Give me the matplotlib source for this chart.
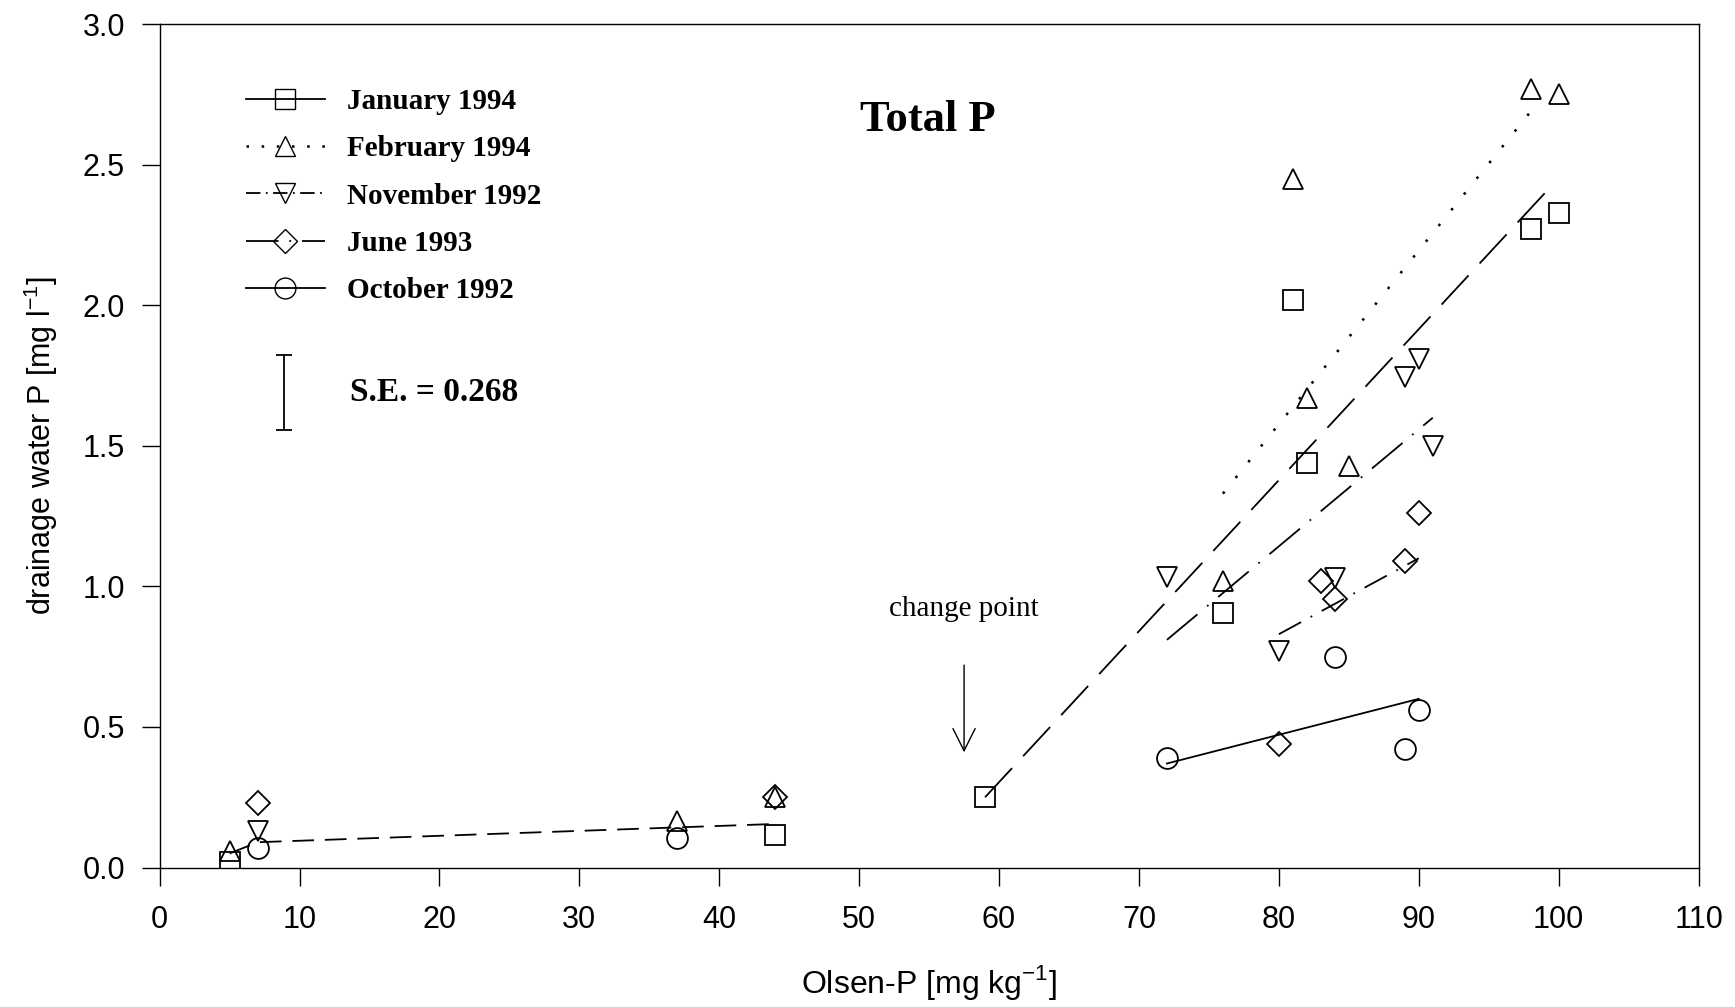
import matplotlib
matplotlib.use("Agg")
import matplotlib.pyplot as plt
from matplotlib.lines import Line2D

# values
jan_x = [5, 44, 59, 76, 81, 82, 98, 100]
jan_y = [0.02, 0.115, 0.25, 0.905, 2.02, 1.44, 2.27, 2.33]
feb_x = [5, 37, 44, 76, 81, 82, 85, 98, 100]
feb_y = [0.06, 0.165, 0.25, 1.02, 2.45, 1.67, 1.43, 2.77, 2.75]
nov_x = [7, 72, 80, 84, 89, 90, 91]
nov_y = [0.13, 1.035, 0.77, 1.03, 1.745, 1.81, 1.50]
jun_x = [7, 44, 80, 83, 84, 89, 90]
jun_y = [0.23, 0.25, 0.44, 1.02, 0.955, 1.09, 1.26]
oct_x = [7, 37, 72, 84, 89, 90]
oct_y = [0.07, 0.105, 0.39, 0.75, 0.42, 0.56]

# fitted lines (end points)
low_fit_x = [5, 7, 44]
low_fit_y = [0.05, 0.09, 0.155]
jan_fit_x = [59, 99.4]
jan_fit_y = [0.25, 2.42]
feb_fit_x = [76, 98.5]
feb_fit_y = [1.33, 2.72]
nov_fit_x = [72, 91]
nov_fit_y = [0.81, 1.60]
jun_fit_x = [80, 90]
jun_fit_y = [0.83, 1.10]
oct_fit_x = [72, 90]
oct_fit_y = [0.37, 0.60]

se_x = 8.9
se_y = 1.69
se_val = 0.268

labels = ['January 1994', 'February 1994', 'November 1992', 'June 1993', 'October 1992']

sans = ['Liberation Sans', 'DejaVu Sans']
serif = ['Liberation Serif', 'DejaVu Serif']

fig = plt.figure(figsize=(17.35, 10.07), dpi=100)
ax = fig.add_axes([0.092, 0.1385, 0.887, 0.8375])

lw = 1.3
ms = 15
mk = dict(linestyle='none', mfc='none', mec='black', mew=1.3, ms=ms)

# fit lines
ax.plot(low_fit_x, low_fit_y, color='black', lw=lw, linestyle=(0, (12, 6)))
ax.plot(jan_fit_x, jan_fit_y, color='black', lw=lw, linestyle=(0, (22, 9)))
ax.plot(feb_fit_x, feb_fit_y, color='black', lw=lw * 1.4, linestyle=(0, (1, 7)))
ax.plot(nov_fit_x, nov_fit_y, color='black', lw=lw, linestyle=(0, (22, 7, 1, 7)))
ax.plot(jun_fit_x, jun_fit_y, color='black', lw=lw, linestyle=(0, (14, 6, 1, 6)))
ax.plot(oct_fit_x, oct_fit_y, color='black', lw=lw, linestyle='-')

# points
ax.plot(jan_x, jan_y, marker='s', **mk)
ax.plot(feb_x, feb_y, marker='^', **mk)
ax.plot(nov_x, nov_y, marker='v', **mk)
ax.plot(jun_x, jun_y, marker='D', **dict(mk, ms=ms * 0.8))
ax.plot(oct_x, oct_y, marker='o', **mk)

# standard error bar
ax.errorbar([se_x], [se_y], yerr=se_val / 2, color='black', lw=1.3, capsize=6, capthick=1.3)
ax.text(13.6, se_y, f'S.E. = {se_val}', fontsize=24, fontweight='bold', family=serif, va='center')

ax.text(54.9, 2.66, 'Total P', fontsize=32, fontweight='bold', family=serif, ha='center', va='center')

ax.annotate('', xy=(57.5, 0.40), xytext=(57.5, 0.73),
            arrowprops=dict(arrowstyle='->', color='black', lw=1.0, mutation_scale=40))
ax.text(57.5, 0.92, 'change point', fontsize=21, family=serif, ha='center', va='center')

# legend with proxy handles
handles = [
    Line2D([], [], color='black', lw=lw, linestyle='-', marker='s', mfc='none', mec='black', ms=ms),
    Line2D([], [], color='black', lw=lw * 1.4, linestyle=(0, (1, 5)), marker='^', mfc='none', mec='black', ms=ms),
    Line2D([], [], color='black', lw=lw, linestyle=(0, (8, 3, 1, 3)), marker='v', mfc='none', mec='black', ms=ms),
    Line2D([], [], color='black', lw=lw, linestyle=(0, (18, 6, 1, 6)), marker='D', mfc='none', mec='black', ms=ms * 0.8),
    Line2D([], [], color='black', lw=lw, linestyle='-', marker='o', mfc='none', mec='black', ms=ms),
]
leg = ax.legend(handles, labels, loc='upper left', bbox_to_anchor=(0.039, 0.955), frameon=False,
                prop=dict(family=serif, weight='bold', size=21), handlelength=2.7,
                labelspacing=0.69, handletextpad=0.75)

ax.set_xlim(0, 110)
ax.set_ylim(0, 3.0)
ax.set_xticks(range(0, 111, 10))
ax.set_yticks([0, 0.5, 1.0, 1.5, 2.0, 2.5, 3.0])
ax.set_yticklabels(['0.0', '0.5', '1.0', '1.5', '2.0', '2.5', '3.0'])
ax.tick_params(direction='out', length=13, width=1.0, labelsize=22)
ax.tick_params(axis='y', pad=12)
ax.tick_params(axis='x', pad=14)
for t in ax.get_xticklabels() + ax.get_yticklabels():
    t.set_family(sans)
for s in ax.spines.values():
    s.set_linewidth(1.0)

ax.set_xlabel(r'Olsen-P [mg kg$^{\mathregular{-1}}$]', fontsize=23, family=sans, labelpad=20)
ax.set_ylabel(r'drainage water P [mg l$^{\mathregular{-1}}$]', fontsize=22, family=sans, labelpad=16)

fig.savefig('out.png', dpi=100)
